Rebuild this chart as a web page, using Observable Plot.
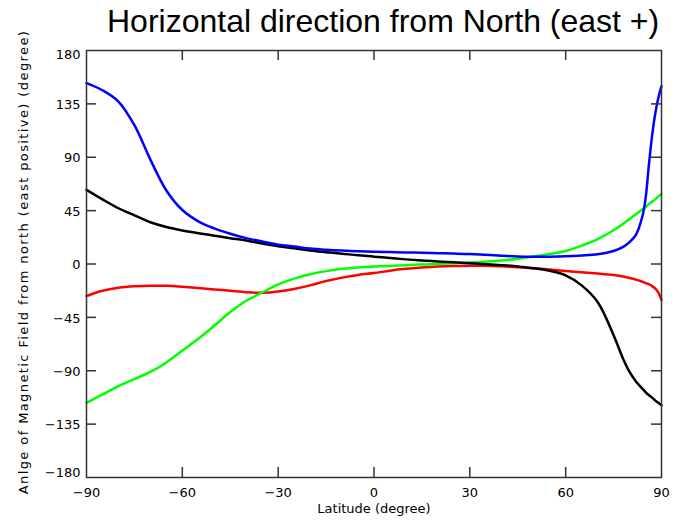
<!DOCTYPE html>
<html>
<head>
<meta charset="utf-8">
<script src="https://cdn.jsdelivr.net/npm/d3@7"></script>
<script src="https://cdn.jsdelivr.net/npm/@observablehq/plot@0.6"></script>
<style>
  html, body { margin: 0; padding: 0; background: #fff; }
  #wrap { position: relative; width: 675px; height: 521px; }
  #title { position: absolute; left: 107px; top: 1px; font-family: "Liberation Sans", Arial, sans-serif; font-size: 32px; line-height: 40px; color: #000; white-space: nowrap; }
  #chart svg text[transform*="rotate(-90"] { letter-spacing: 1.4px; }
</style>
</head>
<body>
<div id="wrap">
  <div id="chart"></div>
  <div id="title">Horizontal direction from North (east +)</div>
</div>
<script>
const titleText = "Horizontal direction from North (east +)";
const xLabel = "Latitude (degree)";
const yLabel = "Anlge of Magnetic Field from north (east positive) (degree)";
const xTicks = [-90, -60, -30, 0, 30, 60, 90];
const yTicks = [-180, -135, -90, -45, 0, 45, 90, 135, 180];

const lat = [-90,-85,-80,-75,-70,-65,-60,-55,-50,-45,-40,-35,-30,-25,-20,-15,-10,-5,0,5,10,15,20,25,30,35,40,45,50,55,60,65,70,75,78,80,82,84,85,86,87,88,89,90];
const blueVals = [152.5,146.5,137,117,88,62,45.5,36,30,25.5,21.8,19,16.3,14.8,13,12,11.3,10.8,10.4,10.1,9.8,9.4,9.1,8.8,8.4,7.7,7,6.3,6.1,6.2,6.5,7.2,8.3,11,14.5,18.5,24.5,40,55,82,107,126,140,150];
const blackVals = [62.5,54.5,47,41,35.2,31.2,28.3,26,23.9,21.8,19.8,17.3,15,13.3,11.4,10,8.7,7.3,6.2,5,3.9,3,2.2,1.4,0.6,-0.2,-1,-2,-3.5,-5.7,-9.5,-18,-32,-60,-80,-91,-99,-105,-108,-110.5,-112.5,-115,-117,-119];
const redVals = [-27,-22.5,-20,-18.8,-18.3,-18.4,-19.2,-20.2,-21.4,-22.6,-23.8,-24.3,-23.2,-21,-18,-14.4,-11.5,-9.2,-7.6,-5.6,-4.1,-3,-2.2,-1.7,-1.4,-1.5,-2,-2.7,-3.6,-4.7,-5.9,-6.9,-8,-9.3,-10.5,-11.8,-13.2,-15,-16,-17,-18.5,-20.5,-24,-30.5];
const greenVals = [-117,-110,-103,-97,-91,-83,-73,-63,-52,-40.5,-31,-24,-17.2,-12.3,-8.6,-6,-4.1,-3,-2.2,-1.6,-1,-0.4,0.1,0.7,1.2,2,3,4.5,6.3,8.4,11,15.5,21,28.5,34,38,42,46,48,50.5,52.5,54.5,57,59];

const seriesNames = ["Series R", "Series G", "Series K", "Series B"];
const seriesColors = ["#ff0000", "#00ff00", "#000000", "#0000ff"];
const seriesValues = [redVals, greenVals, blackVals, blueVals];

const rows = [];
seriesNames.forEach((s, i) => {
  lat.forEach((l, j) => rows.push({series: s, lat: l, val: seriesValues[i][j]}));
});

const font = "'DejaVu Sans', sans-serif";
const axisColor = "#333";
const yMid = yTicks.filter(d => Math.abs(d) < 180);
const xMid = xTicks.filter(d => Math.abs(d) < 90);
const fmt = d => (d < 0 ? "\u2212" : "") + Math.abs(d);

const chart = Plot.plot({
  width: 675,
  height: 521,
  marginLeft: 86,
  marginRight: 14,
  marginTop: 50,
  marginBottom: 44,
  style: {fontFamily: font, fontSize: "13px", color: "#000", background: "#fff"},
  x: {domain: [-90, 90], axis: null},
  y: {domain: [-180, 180], axis: null},
  color: {type: "ordinal", domain: seriesNames, range: seriesColors},
  marks: [
    Plot.line(rows, {x: "lat", y: "val", z: "series", stroke: "series", strokeWidth: 2.5, curve: "catmull-rom"}),
    Plot.tickY(yMid, {y: d => d, insetRight: 565, stroke: axisColor, strokeWidth: 1.5}),
    Plot.tickY(yMid, {y: d => d, insetLeft: 565, stroke: axisColor, strokeWidth: 1.5}),
    Plot.tickX(xMid, {x: d => d, insetTop: 417, stroke: axisColor, strokeWidth: 1.5}),
    Plot.tickX(xMid, {x: d => d, insetBottom: 417, stroke: axisColor, strokeWidth: 1.5}),
    Plot.frame({stroke: axisColor, strokeWidth: 1.5}),
    Plot.text(yMid, {x: -90, y: d => d, text: fmt, textAnchor: "end", dx: -6, dy: 1, fill: "#000"}),
    Plot.text([180], {x: -90, y: d => d, text: fmt, textAnchor: "end", dx: -6, dy: 4, fill: "#000"}),
    Plot.text([-180], {x: -90, y: d => d, text: fmt, textAnchor: "end", dx: -6, dy: -5, fill: "#000"}),
    Plot.text(xTicks, {x: d => d, y: -180, text: fmt, dy: 15, fill: "#000"}),
    Plot.text([xLabel], {frameAnchor: "bottom", dy: 35, fill: "#000"}),
    Plot.text([yLabel], {frameAnchor: "left", textAnchor: "middle", rotate: -90, dx: -63, dy: -2, fill: "#000"})
  ]
});
document.getElementById("chart").appendChild(chart);
</script>
</body>
</html>
